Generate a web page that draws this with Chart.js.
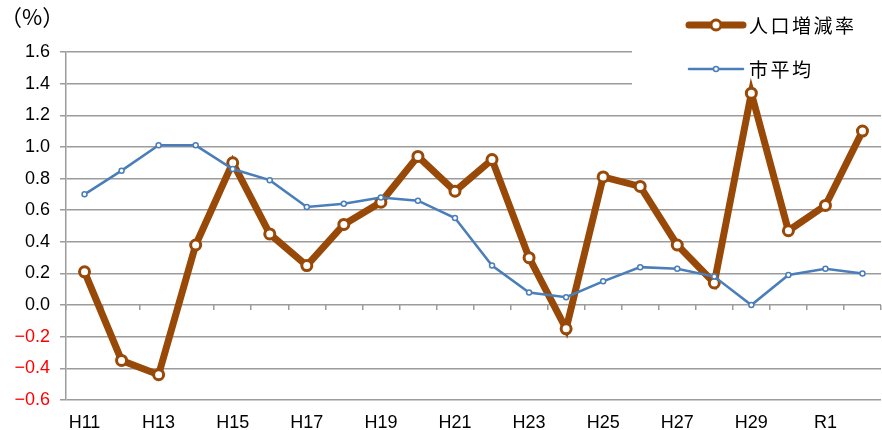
<!DOCTYPE html>
<html>
<head>
<meta charset="utf-8">
<script src="https://cdn.jsdelivr.net/npm/chart.js@4/dist/chart.umd.min.js"></script>
<style>
  html, body { margin: 0; padding: 0; background: #fff; overflow: hidden; }
  /* the plot in the original runs a few pixels past the right edge, so the canvas is cropped */
  #wrap { width: 882px; height: 430px; overflow: hidden; }
  canvas { display: block; }
</style>
</head>
<body>
<div id="wrap"><canvas id="chart" width="889" height="430"></canvas></div>
<script>
// population change rate vs city average, H11 - R2

const labels = ['H11', 'H12', 'H13', 'H14', 'H15', 'H16', 'H17', 'H18', 'H19', 'H20', 'H21',
  'H22', 'H23', 'H24', 'H25', 'H26', 'H27', 'H28', 'H29', 'H30', 'R1', 'R2'];
const popRate = [0.21, -0.35, -0.44, 0.38, 0.90, 0.45, 0.25, 0.51, 0.65, 0.94, 0.72,
  0.92, 0.30, -0.15, 0.81, 0.75, 0.38, 0.14, 1.34, 0.47, 0.63, 1.10];
const cityAvg = [0.70, 0.85, 1.01, 1.01, 0.86, 0.79, 0.62, 0.64, 0.68, 0.66, 0.55,
  0.25, 0.08, 0.05, 0.15, 0.24, 0.23, 0.18, 0.00, 0.19, 0.23, 0.20];
const yMin = -0.6, yMax = 1.6, yStep = 0.2;

const gridColor = '#9c9c9c';
const latinFont = '"Liberation Sans", Arial, sans-serif';
const cjkFont = '"Noto Sans CJK JP", "Noto Sans", sans-serif';

// legend sits in the top right corner over the grid, like the original
const legendBox = {
  id: 'legendBox',
  beforeDatasetsDraw(chart) {
    const ctx = chart.ctx;
    const left = chart.chartArea.right - 249;
    ctx.save();
    ctx.fillStyle = '#fff';
    ctx.fillRect(left, 0, chart.width - left, 100);
    chart.data.datasets.forEach((ds, i) => {
      const y = 25 + i * 44;
      const x1 = left + 57, x2 = left + 111, cx = (x1 + x2) / 2;
      ctx.strokeStyle = ds.borderColor;
      ctx.lineWidth = ds.borderWidth;
      ctx.lineCap = 'round';
      ctx.beginPath();
      ctx.moveTo(x1, y);
      ctx.lineTo(x2, y);
      ctx.stroke();
      ctx.beginPath();
      ctx.arc(cx, y, ds.pointRadius, 0, Math.PI * 2);
      ctx.fillStyle = ds.pointBackgroundColor;
      ctx.fill();
      ctx.lineWidth = ds.pointBorderWidth;
      ctx.stroke();
      ctx.fillStyle = '#000';
      ctx.font = '19px ' + cjkFont;
      ctx.letterSpacing = '2.5px';
      ctx.textBaseline = 'middle';
      ctx.fillText(ds.label, x2 + 6, y + 1);
    });
    ctx.restore();
  }
};

const ctx = document.getElementById('chart').getContext('2d');
new Chart(ctx, {
  type: 'line',
  data: {
    labels: labels,
    datasets: [
      {
        label: '人口増減率',
        data: popRate,
        borderColor: '#984807',
        borderWidth: 7,
        pointRadius: 5,
        pointBorderWidth: 3,
        pointBackgroundColor: '#fff',
        pointBorderColor: '#984807',
        tension: 0,
        order: 1
      },
      {
        label: '市平均',
        data: cityAvg,
        borderColor: '#4a7ebb',
        borderWidth: 2.5,
        pointRadius: 2.5,
        pointBorderWidth: 1.5,
        pointBackgroundColor: '#fff',
        pointBorderColor: '#4a7ebb',
        tension: 0,
        order: 0
      }
    ]
  },
  options: {
    responsive: false,
    animation: false,
    layout: { padding: { top: 0, right: 0, left: 0, bottom: 0 } },
    plugins: {
      legend: { display: false },
      tooltip: { enabled: false },
      title: {
        display: true,
        text: '（%）',
        align: 'start',
        color: '#000',
        font: { family: cjkFont, size: 22, weight: 'normal', lineHeight: 1.2 },
        padding: { top: 3, bottom: 22.6 }
      }
    },
    scales: {
      x: {
        type: 'category',
        offset: true,
        grid: { display: false },
        border: { display: false },
        afterFit: (s) => { s.height = 30; s.paddingLeft = 0; s.paddingRight = 0; },
        ticks: {
          autoSkip: false,
          maxRotation: 0,
          padding: 4,
          color: '#000',
          font: { family: latinFont, size: 18 },
          callback: (v, i) => (i % 2 === 0 ? labels[i] : '')
        }
      },
      // tick marks along the zero line
      x0: {
        type: 'category',
        position: { y: 0 },
        offset: true,
        grid: { offset: true, drawOnChartArea: false, drawTicks: true, tickLength: 5, color: gridColor, lineWidth: 1.5 },
        border: { display: false },
        ticks: { display: false }
      },
      y: {
        min: yMin,
        max: yMax,
        afterFit: (s) => { s.width = 66; },
        grid: { color: gridColor, lineWidth: 1.5, tickLength: 6 },
        border: { display: true, color: gridColor, width: 1.5 },
        ticks: {
          stepSize: yStep,
          padding: 10,
          font: { family: latinFont, size: 18 },
          color: (c) => (c.tick && c.tick.value < -1e-9 ? '#ff0000' : '#000'),
          callback: (v) => {
            const s = Math.abs(v).toFixed(1);
            return v < -1e-9 ? '\u2212' + s : s;
          }
        }
      }
    }
  },
  plugins: [legendBox]
});
</script>
</body>
</html>
